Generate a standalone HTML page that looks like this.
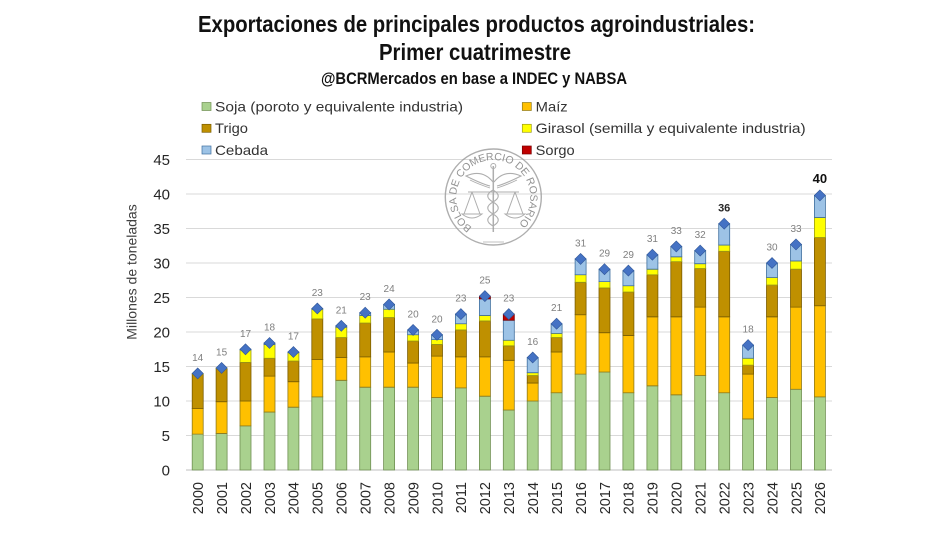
<!DOCTYPE html>
<html>
<head>
<meta charset="utf-8">
<style>
  html,body{margin:0;padding:0;background:#fff;}
  svg{display:block;}
  .bars rect{stroke-width:0.8;vector-effect:non-scaling-stroke;}
  .s{fill:#A9D18E;stroke:#6f8f52;}
  .m{fill:#FFC000;stroke:#8f7a1c;}
  .t{fill:#BF9000;stroke:#7a5c00;}
  .g{fill:#FFFF00;stroke:#9a9a1a;}
  .c{fill:#9DC3E6;stroke:#3f6f9f;}
  .r{fill:#C00000;stroke:#7a0000;}
  .lbl{font-family:"Liberation Sans",sans-serif;font-size:10px;fill:#7f7f7f;text-anchor:middle;}
  .xl{font-family:"Liberation Sans",sans-serif;font-size:14.5px;fill:#262626;text-anchor:end;}
  .yl{font-family:"Liberation Sans",sans-serif;font-size:15px;fill:#262626;text-anchor:end;}
  .lg{font-family:"Liberation Sans",sans-serif;font-size:14px;fill:#333;}
</style>
</head>
<body>
<svg width="950" height="535" viewBox="0 0 950 535" xmlns="http://www.w3.org/2000/svg">
  <defs>
    <path id="dm" d="M0,-5.5L5.5,0L0,5.5L-5.5,0Z" fill="#4472C4" stroke="#2f5597" stroke-width="0.6"/>
  </defs>
  <rect width="950" height="535" fill="#fff"/>

  <!-- Titles -->
  <text x="198" y="32" font-family="'Liberation Sans Narrow','Liberation Sans',sans-serif" font-weight="bold" font-size="23" fill="#111" textLength="557" lengthAdjust="spacingAndGlyphs">Exportaciones de principales productos agroindustriales:</text>
  <text x="379" y="60" font-family="'Liberation Sans Narrow','Liberation Sans',sans-serif" font-weight="bold" font-size="23" fill="#111" textLength="192" lengthAdjust="spacingAndGlyphs">Primer cuatrimestre</text>
  <text x="321" y="84" font-family="'Liberation Sans Narrow','Liberation Sans',sans-serif" font-weight="bold" font-size="16.5" fill="#111" textLength="306" lengthAdjust="spacingAndGlyphs">@BCRMercados en base a INDEC y NABSA</text>

  <!-- Gridlines -->
  <g stroke="#d9d9d9" stroke-width="1">
    <line x1="186" x2="832" y1="159.5" y2="159.5"/>
    <line x1="186" x2="832" y1="194" y2="194"/>
    <line x1="186" x2="832" y1="228.5" y2="228.5"/>
    <line x1="186" x2="832" y1="263" y2="263"/>
    <line x1="186" x2="832" y1="297.5" y2="297.5"/>
    <line x1="186" x2="832" y1="332" y2="332"/>
    <line x1="186" x2="832" y1="366.5" y2="366.5"/>
    <line x1="186" x2="832" y1="401" y2="401"/>
    <line x1="186" x2="832" y1="435.5" y2="435.5"/>
  </g>
  <line x1="186" x2="832" y1="470" y2="470" stroke="#bfbfbf" stroke-width="1"/>

  <!-- Seal -->
  <g opacity="0.8" fill="none" stroke="#9a9a9a">
    <circle cx="493.3" cy="197" r="48" stroke-width="1.4"/>
    <line x1="493.3" y1="166" x2="493.3" y2="232" stroke-width="1.5"/>
    <circle cx="493.3" cy="166" r="2.5" stroke-width="1"/>
    <path d="M493,182 C485,172 475,172 466,176 C474,180 482,184 490,186" stroke-width="1.1"/>
    <path d="M494,182 C502,172 512,172 521,176 C513,180 505,184 497,186" stroke-width="1.1"/>
    <path d="M470,180 C478,184 484,186 490,188 M517,180 C509,184 503,186 497,188" stroke-width="0.9"/>
    <line x1="468" y1="192" x2="519" y2="192" stroke-width="1.1"/>
    <path d="M472,192 L464,214 M472,192 L480,214 M462,214 Q472,222 482,214 Z" stroke-width="1"/>
    <path d="M515,192 L507,214 M515,192 L523,214 M505,214 Q515,222 525,214 Z" stroke-width="1"/>
    <path d="M493,190 C500,194 500,198 493,202 C486,206 486,210 493,214 C500,218 500,222 493,226" stroke-width="1.1"/>
    <path d="M493,190 C486,194 486,198 493,202 C500,206 500,210 493,214 C486,218 486,222 493,226" stroke-width="1.1"/>
    <line x1="483" y1="242" x2="504" y2="242" stroke-width="0.7"/>
  </g>
  <path id="sealArc" d="M472.1,227.3 A37,37 0 1 1 517.1,225.3" fill="none" stroke="none"/>
  <text font-family="'Liberation Sans',sans-serif" font-size="10.5" fill="#929292"><textPath href="#sealArc">BOLSA DE COMERCIO DE ROSARIO</textPath></text>

  <!-- Legend -->
  <rect x="202" y="102.5" width="9" height="8" fill="#A9D18E" stroke="#6f8f52" stroke-width="0.7"/>
  <text class="lg" x="215" y="111.5" textLength="248" lengthAdjust="spacingAndGlyphs">Soja (poroto y equivalente industria)</text>
  <rect x="202" y="124.3" width="9" height="8" fill="#BF9000" stroke="#7a5c00" stroke-width="0.7"/>
  <text class="lg" x="215" y="133.2" textLength="33" lengthAdjust="spacingAndGlyphs">Trigo</text>
  <rect x="202" y="146" width="9" height="8" fill="#9DC3E6" stroke="#3f6f9f" stroke-width="0.7"/>
  <text class="lg" x="215" y="155" textLength="53" lengthAdjust="spacingAndGlyphs">Cebada</text>
  <rect x="522.3" y="102.5" width="9" height="8" fill="#FFC000" stroke="#8f7a1c" stroke-width="0.7"/>
  <text class="lg" x="535.7" y="111.5" textLength="32" lengthAdjust="spacingAndGlyphs">Maíz</text>
  <rect x="522.3" y="124.3" width="9" height="8" fill="#FFFF00" stroke="#9a9a1a" stroke-width="0.7"/>
  <text class="lg" x="535.7" y="133.2" textLength="270" lengthAdjust="spacingAndGlyphs">Girasol (semilla y equivalente industria)</text>
  <rect x="522.3" y="146" width="9" height="8" fill="#C00000" stroke="#7a0000" stroke-width="0.7"/>
  <text class="lg" x="535.7" y="155" textLength="39" lengthAdjust="spacingAndGlyphs">Sorgo</text>

  <!-- Y axis -->
  <text class="yl" x="170" y="164.8">45</text>
  <text class="yl" x="170" y="199.3">40</text>
  <text class="yl" x="170" y="233.8">35</text>
  <text class="yl" x="170" y="268.3">30</text>
  <text class="yl" x="170" y="302.8">25</text>
  <text class="yl" x="170" y="337.3">20</text>
  <text class="yl" x="170" y="371.8">15</text>
  <text class="yl" x="170" y="406.3">10</text>
  <text class="yl" x="170" y="440.8">5</text>
  <text class="yl" x="170" y="475.3">0</text>
  <text transform="translate(136.7,272) rotate(-90)" font-family="'Liberation Sans',sans-serif" font-size="14" fill="#404040" text-anchor="middle">Millones de toneladas</text>

  <!-- Bars (data coords: y up, 6.9 px per unit) -->
  <g class="bars" transform="matrix(1 0 0 -6.9 0 470)">
    <g transform="translate(192.2,0)"><rect class="s" width="11" y="0" height="5.2"/><rect class="m" width="11" y="5.2" height="3.7"/><rect class="t" width="11" y="8.9" height="5.0"/><rect class="g" width="11" y="13.9" height="0.1"/></g>
    <g transform="translate(216.1,0)"><rect class="s" width="11" y="0" height="5.3"/><rect class="m" width="11" y="5.3" height="4.6"/><rect class="t" width="11" y="9.9" height="4.8"/><rect class="g" width="11" y="14.7" height="0.1"/></g>
    <g transform="translate(240.0,0)"><rect class="s" width="11" y="0" height="6.4"/><rect class="m" width="11" y="6.4" height="3.6"/><rect class="t" width="11" y="10.0" height="5.6"/><rect class="g" width="11" y="15.6" height="1.8"/><rect class="c" width="11" y="17.4" height="0.1"/></g>
    <g transform="translate(264.0,0)"><rect class="s" width="11" y="0" height="8.4"/><rect class="m" width="11" y="8.4" height="5.2"/><rect class="t" width="11" y="13.6" height="2.6"/><rect class="g" width="11" y="16.2" height="2.0"/><rect class="c" width="11" y="18.2" height="0.2"/></g>
    <g transform="translate(287.9,0)"><rect class="s" width="11" y="0" height="9.1"/><rect class="m" width="11" y="9.1" height="3.7"/><rect class="t" width="11" y="12.8" height="3.0"/><rect class="g" width="11" y="15.8" height="1.2"/><rect class="c" width="11" y="17.0" height="0.1"/></g>
    <g transform="translate(311.8,0)"><rect class="s" width="11" y="0" height="10.6"/><rect class="m" width="11" y="10.6" height="5.4"/><rect class="t" width="11" y="16.0" height="5.9"/><rect class="g" width="11" y="21.9" height="1.4"/><rect class="c" width="11" y="23.3" height="0.1"/></g>
    <g transform="translate(335.8,0)"><rect class="s" width="11" y="0" height="13.0"/><rect class="m" width="11" y="13.0" height="3.3"/><rect class="t" width="11" y="16.3" height="2.9"/><rect class="g" width="11" y="19.2" height="1.5"/><rect class="c" width="11" y="20.7" height="0.2"/></g>
    <g transform="translate(359.7,0)"><rect class="s" width="11" y="0" height="12.0"/><rect class="m" width="11" y="12.0" height="4.4"/><rect class="t" width="11" y="16.4" height="4.9"/><rect class="g" width="11" y="21.3" height="1.1"/><rect class="c" width="11" y="22.4" height="0.4"/></g>
    <g transform="translate(383.6,0)"><rect class="s" width="11" y="0" height="12.0"/><rect class="m" width="11" y="12.0" height="5.1"/><rect class="t" width="11" y="17.1" height="5.0"/><rect class="g" width="11" y="22.1" height="1.2"/><rect class="c" width="11" y="23.3" height="0.7"/></g>
    <g transform="translate(407.6,0)"><rect class="s" width="11" y="0" height="12.0"/><rect class="m" width="11" y="12.0" height="3.5"/><rect class="t" width="11" y="15.5" height="3.2"/><rect class="g" width="11" y="18.7" height="0.9"/><rect class="c" width="11" y="19.6" height="0.7"/></g>
    <g transform="translate(431.5,0)"><rect class="s" width="11" y="0" height="10.5"/><rect class="m" width="11" y="10.5" height="6.0"/><rect class="t" width="11" y="16.5" height="1.7"/><rect class="g" width="11" y="18.2" height="0.7"/><rect class="c" width="11" y="18.9" height="0.7"/></g>
    <g transform="translate(455.4,0)"><rect class="s" width="11" y="0" height="11.9"/><rect class="m" width="11" y="11.9" height="4.5"/><rect class="t" width="11" y="16.4" height="3.9"/><rect class="g" width="11" y="20.3" height="0.9"/><rect class="c" width="11" y="21.2" height="1.4"/></g>
    <g transform="translate(479.4,0)"><rect class="s" width="11" y="0" height="10.7"/><rect class="m" width="11" y="10.7" height="5.7"/><rect class="t" width="11" y="16.4" height="5.2"/><rect class="g" width="11" y="21.6" height="0.8"/><rect class="c" width="11" y="22.4" height="2.4"/><rect class="r" width="11" y="24.8" height="0.4"/></g>
    <g transform="translate(503.3,0)"><rect class="s" width="11" y="0" height="8.7"/><rect class="m" width="11" y="8.7" height="7.2"/><rect class="t" width="11" y="15.9" height="2.1"/><rect class="g" width="11" y="18.0" height="0.8"/><rect class="c" width="11" y="18.8" height="2.9"/><rect class="r" width="11" y="21.7" height="0.9"/></g>
    <g transform="translate(527.2,0)"><rect class="s" width="11" y="0" height="10.0"/><rect class="m" width="11" y="10.0" height="2.6"/><rect class="t" width="11" y="12.6" height="1.1"/><rect class="g" width="11" y="13.7" height="0.4"/><rect class="c" width="11" y="14.1" height="2.2"/></g>
    <g transform="translate(551.1,0)"><rect class="s" width="11" y="0" height="11.2"/><rect class="m" width="11" y="11.2" height="5.9"/><rect class="t" width="11" y="17.1" height="2.1"/><rect class="g" width="11" y="19.2" height="0.6"/><rect class="c" width="11" y="19.8" height="1.4"/></g>
    <g transform="translate(575.1,0)"><rect class="s" width="11" y="0" height="13.9"/><rect class="m" width="11" y="13.9" height="8.6"/><rect class="t" width="11" y="22.5" height="4.7"/><rect class="g" width="11" y="27.2" height="1.1"/><rect class="c" width="11" y="28.3" height="2.3"/></g>
    <g transform="translate(599.0,0)"><rect class="s" width="11" y="0" height="14.2"/><rect class="m" width="11" y="14.2" height="5.7"/><rect class="t" width="11" y="19.9" height="6.5"/><rect class="g" width="11" y="26.4" height="0.9"/><rect class="c" width="11" y="27.3" height="1.8"/></g>
    <g transform="translate(622.9,0)"><rect class="s" width="11" y="0" height="11.2"/><rect class="m" width="11" y="11.2" height="8.3"/><rect class="t" width="11" y="19.5" height="6.3"/><rect class="g" width="11" y="25.8" height="0.9"/><rect class="c" width="11" y="26.7" height="2.2"/></g>
    <g transform="translate(646.9,0)"><rect class="s" width="11" y="0" height="12.2"/><rect class="m" width="11" y="12.2" height="10.0"/><rect class="t" width="11" y="22.2" height="6.1"/><rect class="g" width="11" y="28.3" height="0.8"/><rect class="c" width="11" y="29.1" height="2.1"/></g>
    <g transform="translate(670.8,0)"><rect class="s" width="11" y="0" height="10.9"/><rect class="m" width="11" y="10.9" height="11.3"/><rect class="t" width="11" y="22.2" height="8.0"/><rect class="g" width="11" y="30.2" height="0.7"/><rect class="c" width="11" y="30.9" height="1.5"/></g>
    <g transform="translate(694.7,0)"><rect class="s" width="11" y="0" height="13.7"/><rect class="m" width="11" y="13.7" height="9.9"/><rect class="t" width="11" y="23.6" height="5.6"/><rect class="g" width="11" y="29.2" height="0.7"/><rect class="c" width="11" y="29.9" height="1.9"/></g>
    <g transform="translate(718.7,0)"><rect class="s" width="11" y="0" height="11.2"/><rect class="m" width="11" y="11.2" height="11.0"/><rect class="t" width="11" y="22.2" height="9.5"/><rect class="g" width="11" y="31.7" height="0.9"/><rect class="c" width="11" y="32.6" height="3.1"/></g>
    <g transform="translate(742.6,0)"><rect class="s" width="11" y="0" height="7.4"/><rect class="m" width="11" y="7.4" height="6.5"/><rect class="t" width="11" y="13.9" height="1.3"/><rect class="g" width="11" y="15.2" height="1.0"/><rect class="c" width="11" y="16.2" height="1.9"/></g>
    <g transform="translate(766.5,0)"><rect class="s" width="11" y="0" height="10.5"/><rect class="m" width="11" y="10.5" height="11.7"/><rect class="t" width="11" y="22.2" height="4.6"/><rect class="g" width="11" y="26.8" height="1.1"/><rect class="c" width="11" y="27.9" height="2.1"/></g>
    <g transform="translate(790.5,0)"><rect class="s" width="11" y="0" height="11.7"/><rect class="m" width="11" y="11.7" height="11.9"/><rect class="t" width="11" y="23.6" height="5.5"/><rect class="g" width="11" y="29.1" height="1.2"/><rect class="c" width="11" y="30.3" height="2.4"/></g>
    <g transform="translate(814.4,0)"><rect class="s" width="11" y="0" height="10.6"/><rect class="m" width="11" y="10.6" height="13.2"/><rect class="t" width="11" y="23.8" height="9.9"/><rect class="g" width="11" y="33.7" height="2.9"/><rect class="c" width="11" y="36.6" height="3.2"/></g>
  </g>

  <!-- Total markers -->
  <use href="#dm" x="197.7" y="373.4"/>
  <use href="#dm" x="221.6" y="367.9"/>
  <use href="#dm" x="245.5" y="349.3"/>
  <use href="#dm" x="269.5" y="343.0"/>
  <use href="#dm" x="293.4" y="352.0"/>
  <use href="#dm" x="317.3" y="308.5"/>
  <use href="#dm" x="341.3" y="325.8"/>
  <use href="#dm" x="365.2" y="312.7"/>
  <use href="#dm" x="389.1" y="304.4"/>
  <use href="#dm" x="413.1" y="329.9"/>
  <use href="#dm" x="437.0" y="334.8"/>
  <use href="#dm" x="460.9" y="314.1"/>
  <use href="#dm" x="484.9" y="296.1"/>
  <use href="#dm" x="508.8" y="314.1"/>
  <use href="#dm" x="532.7" y="357.5"/>
  <use href="#dm" x="556.6" y="323.7"/>
  <use href="#dm" x="580.6" y="258.9"/>
  <use href="#dm" x="604.5" y="269.2"/>
  <use href="#dm" x="628.4" y="270.6"/>
  <use href="#dm" x="652.4" y="254.7"/>
  <use href="#dm" x="676.3" y="246.4"/>
  <use href="#dm" x="700.2" y="250.6"/>
  <use href="#dm" x="724.2" y="223.7"/>
  <use href="#dm" x="748.1" y="345.1"/>
  <use href="#dm" x="772.0" y="263.0"/>
  <use href="#dm" x="796.0" y="244.4"/>
  <use href="#dm" x="819.9" y="195.4"/>

  <!-- Data labels -->
  <text class="lbl" x="197.7" y="360.9">14</text>
  <text class="lbl" x="221.6" y="355.4">15</text>
  <text class="lbl" x="245.5" y="336.8">17</text>
  <text class="lbl" x="269.5" y="330.5">18</text>
  <text class="lbl" x="293.4" y="339.5">17</text>
  <text class="lbl" x="317.3" y="296.0">23</text>
  <text class="lbl" x="341.3" y="313.3">21</text>
  <text class="lbl" x="365.2" y="300.2">23</text>
  <text class="lbl" x="389.1" y="291.9">24</text>
  <text class="lbl" x="413.1" y="317.4">20</text>
  <text class="lbl" x="437.0" y="322.3">20</text>
  <text class="lbl" x="460.9" y="301.6">23</text>
  <text class="lbl" x="484.9" y="283.6">25</text>
  <text class="lbl" x="508.8" y="301.6">23</text>
  <text class="lbl" x="532.7" y="345.0">16</text>
  <text class="lbl" x="556.6" y="311.2">21</text>
  <text class="lbl" x="580.6" y="246.4">31</text>
  <text class="lbl" x="604.5" y="256.7">29</text>
  <text class="lbl" x="628.4" y="258.1">29</text>
  <text class="lbl" x="652.4" y="242.2">31</text>
  <text class="lbl" x="676.3" y="233.9">33</text>
  <text class="lbl" x="700.2" y="238.1">32</text>
  <text x="724.2" y="211.5" font-family="'Liberation Sans',sans-serif" font-size="11" font-weight="bold" fill="#262626" text-anchor="middle">36</text>
  <text class="lbl" x="748.1" y="332.6">18</text>
  <text class="lbl" x="772.0" y="250.5">30</text>
  <text class="lbl" x="796.0" y="231.9">33</text>
  <text x="819.9" y="183" font-family="'Liberation Sans',sans-serif" font-size="13" font-weight="bold" fill="#111" text-anchor="middle">40</text>

  <!-- X labels -->
  <text class="xl" transform="translate(203,482) rotate(-90)">2000</text>
  <text class="xl" transform="translate(226.9,482) rotate(-90)">2001</text>
  <text class="xl" transform="translate(250.8,482) rotate(-90)">2002</text>
  <text class="xl" transform="translate(274.8,482) rotate(-90)">2003</text>
  <text class="xl" transform="translate(298.7,482) rotate(-90)">2004</text>
  <text class="xl" transform="translate(322.6,482) rotate(-90)">2005</text>
  <text class="xl" transform="translate(346.6,482) rotate(-90)">2006</text>
  <text class="xl" transform="translate(370.5,482) rotate(-90)">2007</text>
  <text class="xl" transform="translate(394.4,482) rotate(-90)">2008</text>
  <text class="xl" transform="translate(418.4,482) rotate(-90)">2009</text>
  <text class="xl" transform="translate(442.3,482) rotate(-90)">2010</text>
  <text class="xl" transform="translate(466.2,482) rotate(-90)">2011</text>
  <text class="xl" transform="translate(490.2,482) rotate(-90)">2012</text>
  <text class="xl" transform="translate(514.1,482) rotate(-90)">2013</text>
  <text class="xl" transform="translate(538.0,482) rotate(-90)">2014</text>
  <text class="xl" transform="translate(561.9,482) rotate(-90)">2015</text>
  <text class="xl" transform="translate(585.9,482) rotate(-90)">2016</text>
  <text class="xl" transform="translate(609.8,482) rotate(-90)">2017</text>
  <text class="xl" transform="translate(633.7,482) rotate(-90)">2018</text>
  <text class="xl" transform="translate(657.7,482) rotate(-90)">2019</text>
  <text class="xl" transform="translate(681.6,482) rotate(-90)">2020</text>
  <text class="xl" transform="translate(705.5,482) rotate(-90)">2021</text>
  <text class="xl" transform="translate(729.5,482) rotate(-90)">2022</text>
  <text class="xl" transform="translate(753.4,482) rotate(-90)">2023</text>
  <text class="xl" transform="translate(777.3,482) rotate(-90)">2024</text>
  <text class="xl" transform="translate(801.3,482) rotate(-90)">2025</text>
  <text class="xl" transform="translate(825.2,482) rotate(-90)">2026</text>
</svg>
</body>
</html>
